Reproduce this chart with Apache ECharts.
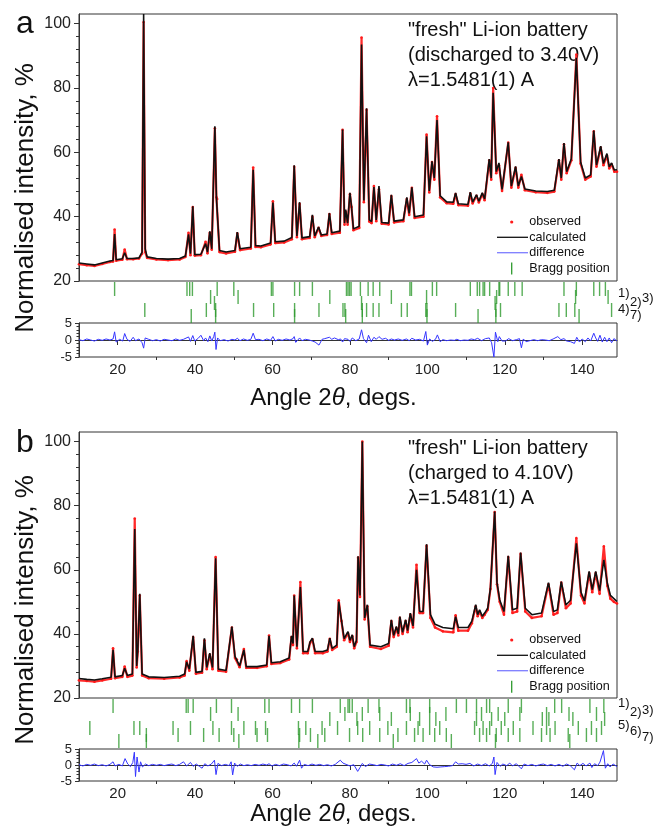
<!DOCTYPE html>
<html>
<head>
<meta charset="utf-8">
<title>Li-ion battery XRD refinement</title>
<script src="https://cdn.jsdelivr.net/npm/echarts@6/dist/echarts.min.js"></script>
<style>
html, body { margin: 0; padding: 0; background: #fff; }
#main { width: 656px; height: 828px; }
</style>
</head>
<body>
<div id="main"></div>
<script>
// ---- panel a : discharged to 3.40V ----
var angleA = [
	10.0, 12.0, 14.0, 16.0, 18.0, 18.8, 19.2, 19.6, 21.2, 21.8,
	22.4, 24.0, 25.5, 26.3, 26.7, 27.1, 27.6, 30.0, 33.0, 36.0,
	37.5, 38.3, 38.8, 39.4, 39.9, 41.5, 42.7, 43.2, 43.8, 44.3,
	45.1, 45.5, 45.7, 46.3, 48.0, 50.3, 50.9, 51.6, 54.4, 55.0,
	55.6, 57.0, 59.5, 60.1, 60.7, 63.0, 65.0, 65.6, 66.3, 67.0,
	67.6, 69.6, 70.3, 70.9, 71.9, 72.6, 74.1, 74.7, 75.3, 77.4,
	78.1, 78.6, 78.9, 79.4, 80.0, 80.4, 80.9, 82.4, 83.0, 83.6,
	84.3, 85.0, 85.6, 86.2, 86.8, 87.5, 88.2, 90.0, 90.7, 91.4,
	93.8, 94.7, 95.3, 96.0, 96.7, 99.0, 99.8, 100.5, 101.2, 101.8,
	102.5, 103.3, 105.0, 106.7, 107.3, 108.0, 110.5, 111.1, 111.7, 112.7,
	113.3, 114.2, 114.8, 116.0, 116.5, 117.0, 117.8, 118.5, 119.3, 120.9,
	121.7, 122.8, 123.5, 124.3, 125.2, 128.0, 131.0, 132.8, 134.0, 134.6,
	135.3, 136.0, 137.2, 138.5, 139.6, 140.8, 142.2, 143.0, 143.7, 144.8,
	145.5, 146.4, 147.0, 147.6, 148.3, 149.0
];
var calcA = [
	25.6, 25.3, 25.0, 25.6, 26.2, 26.4, 34.6, 26.6, 26.9, 28.8,
	27.0, 27.0, 27.2, 29.0, 103.0, 30.0, 27.5, 27.0, 26.8, 27.0,
	27.8, 34.5, 28.5, 43.2, 28.2, 28.3, 31.6, 29.0, 35.4, 30.0,
	68.1, 46.0, 46.3, 29.5, 29.0, 29.5, 35.2, 30.0, 30.5, 54.6,
	31.0, 30.9, 31.8, 44.4, 32.2, 32.4, 33.5, 56.0, 34.0, 44.5,
	33.4, 33.8, 40.6, 34.0, 36.8, 34.3, 34.6, 41.1, 35.0, 35.5,
	67.1, 38.0, 42.2, 38.0, 47.4, 43.2, 36.2, 37.0, 93.5, 45.0,
	73.7, 39.0, 38.5, 49.2, 39.0, 49.5, 38.2, 38.0, 46.8, 38.6,
	39.0, 46.0, 41.0, 49.1, 40.0, 40.5, 65.0, 48.0, 57.2, 52.0,
	70.0, 46.5, 44.6, 44.5, 47.4, 44.0, 43.8, 47.6, 44.5, 46.8,
	44.8, 47.4, 45.5, 57.9, 52.0, 78.5, 54.0, 56.7, 48.5, 63.1,
	49.5, 55.6, 49.5, 52.5, 48.6, 48.0, 47.8, 48.2, 57.9, 52.0,
	62.9, 54.0, 58.0, 89.4, 57.0, 52.0, 53.0, 66.8, 56.0, 61.9,
	56.5, 59.6, 55.5, 56.7, 54.5, 54.6
];
var obsA = [
	25.2, 24.9, 24.7, 25.3, 25.9, 26.1, 36.0, 26.3, 26.6, 29.8,
	26.8, 26.8, 27.0, 28.5, 100.5, 29.0, 27.2, 26.7, 26.5, 26.7,
	27.5, 35.0, 28.0, 43.0, 27.9, 28.0, 32.2, 28.6, 35.0, 29.7,
	67.5, 46.0, 45.5, 29.0, 28.6, 29.1, 34.8, 29.6, 30.1, 55.3,
	30.6, 30.5, 31.4, 44.8, 31.8, 32.0, 33.0, 55.5, 33.6, 44.0,
	33.0, 33.4, 40.0, 33.6, 36.5, 34.0, 34.3, 40.8, 34.6, 35.0,
	67.0, 37.5, 41.5, 37.5, 47.0, 43.0, 35.8, 36.5, 95.7, 44.5,
	73.2, 38.5, 38.0, 49.5, 38.6, 48.5, 37.8, 37.6, 46.4, 38.2,
	38.6, 45.5, 40.5, 49.0, 39.6, 40.0, 65.5, 47.5, 57.0, 51.5,
	71.2, 46.0, 44.2, 44.0, 47.0, 43.6, 43.4, 47.2, 44.1, 46.5,
	44.4, 47.0, 45.1, 57.5, 51.5, 80.0, 53.5, 56.0, 48.0, 63.0,
	49.0, 55.2, 49.0, 53.0, 48.2, 47.6, 47.4, 47.8, 57.5, 51.5,
	62.5, 53.5, 57.5, 90.4, 56.5, 51.5, 52.5, 66.5, 55.5, 61.5,
	56.0, 59.0, 55.0, 56.3, 54.0, 54.0
];
var diffAngleA = [
	10, 11, 12, 13, 14, 15, 16, 17, 18, 18.8,
	19.2, 19.6, 20.5, 21.3, 21.8, 22.4, 23.2, 24.0, 24.6, 25.5,
	26.3, 26.7, 27.1, 28, 29, 30, 31, 32, 33, 34,
	35, 36, 37, 38.3, 38.8, 39.4, 39.9, 40.8, 41.5, 42.2,
	42.7, 43.3, 43.8, 44.3, 44.8, 45.1, 45.4, 45.8, 46.5, 47.5,
	48.5, 49.5, 50.3, 50.9, 51.6, 52.5, 53.5, 54.4, 55.0, 55.6,
	56.5, 57.5, 58.5, 59.5, 60.1, 60.7, 61.5, 62.5, 63.5, 64.5,
	65.3, 65.6, 66.0, 67.0, 67.6, 68.5, 69.5, 70.3, 71.0, 72.0,
	72.8, 73.5, 74.7, 75.3, 76.0, 77.0, 77.6, 78.1, 78.6, 79.5,
	80.0, 80.6, 81.5, 82.4, 83.0, 83.5, 84.3, 84.8, 85.5, 86.2,
	86.8, 87.5, 88.3, 89.2, 90.0, 90.7, 91.5, 92.5, 93.5, 94.6,
	95.3, 96.0, 97.0, 98.0, 99.0, 99.6, 100.0, 100.6, 101.3, 102.1,
	102.6, 103.3, 104, 105, 106, 107, 107.6, 108.5, 109.5, 110.5,
	111.3, 112.2, 113.0, 114.0, 115.0, 116.0, 116.6, 117.2, 117.6, 118.2,
	118.6, 119.3, 120.2, 121.0, 122.0, 123.0, 123.8, 124.3, 124.8, 125.5,
	126.5, 127.5, 128.5, 129.5, 130.5, 131.5, 132.5, 133.7, 134.5, 135.3,
	136.0, 137.0, 138.0, 138.6, 139.3, 140.0, 140.8, 141.5, 142.2, 143.0,
	143.5, 144.0, 144.6, 145.2, 145.8, 146.4, 147.0, 147.6, 148.2, 149.0
];
var diffA = [
	0.1, -0.2, 0.3, 0, -0.3, 0.2, -0.1, 0.3, 0, 0.3,
	2.4, -0.6, 0.2, -0.3, 1.9, 0.2, -0.4, 0.8, -0.2, 0.3,
	-0.8, -2.4, 0.6, 0.2, -0.2, 0.1, -0.3, 0.2, 0, -0.2,
	0.3, -0.1, 0.2, 0.9, -0.4, 1.3, -0.3, 0.5, 1.4, -0.2,
	0.6, -0.5, 1.2, -0.3, 1.0, 2.3, -2.8, 0.6, -0.2, 0.1,
	-0.3, 0.2, 0, 0.5, -0.2, 0.3, -0.1, 0.2, 2.0, 0.1,
	0.2, -0.2, 0.3, -0.1, 1.0, -0.3, 0.2, -0.1, 0.3, 0,
	0.4, 1.0, -0.7, 0.6, -0.2, 0.2, 0, -0.3, -0.6, -1.5,
	0.2, 0.4, 0.8, 0.2, 0.6, 0.1, 0.3, -0.6, 0.4, 0.2,
	-0.4, 0.6, -0.2, 0.3, 3.0, 0.4, -0.8, 1.4, -0.5, 0.8,
	0.2, 1.0, 0.2, 0.5, -0.1, 0.3, 0, 0.3, -0.1, 0.3,
	-0.2, 0.5, 0, 0.2, -0.3, 2.5, -1.5, 0.3, -0.4, 0.2,
	1.5, -0.5, 0.1, -0.2, 0, -0.1, 0.2, -0.2, 0, -0.1,
	0.3, 0.1, 0.5, -0.2, 0.4, 0.6, -0.8, -5.0, 2.3, -0.5,
	1.0, -0.3, -0.3, 0.4, -0.2, 0.1, 0.4, -2.3, 0.3, -0.5,
	-0.2, 0.1, -0.2, 0.1, 0, -0.2, 0.3, 1.0, 0.1, 0.4,
	-0.3, -0.5, -1.0, 0.8, -0.6, 0.3, -0.5, 0.6, -0.3, 2.0,
	0.6, -0.4, 1.4, -0.6, 0.8, -0.5, 0.6, -0.8, 0.4, -0.3
];
// Bragg positions (2theta) per phase
var braggA1 = [19.2, 37.9, 38.6, 39.3, 45.7, 50.0, 59.7, 60.1, 65.7, 67.0, 70.3, 79.1, 79.5, 79.9, 80.3,
	82.7, 84.7, 86.0, 87.7, 95.5, 95.9, 101.3, 102.4, 111.1, 112.9, 113.5, 114.4, 114.8, 116.1,
	118.5, 118.7, 120.9, 122.6, 124.5, 135.3, 138.5, 143.0, 144.5, 146.0];
var braggA2 = [44.0, 51.1, 74.8, 90.7, 99.8, 117.9, 138.3, 146.7];
var braggA3 = [45.0, 83.0, 117.5];
var braggA4 = [27.0, 42.9, 45.3, 55.1, 60.3, 65.7, 72.0, 78.2, 78.7, 83.2, 84.3, 86.0, 87.5, 93.3, 94.8,
	99.6, 99.9, 107.3, 117.7, 118.9, 134.0, 135.9, 138.1, 147.6];
var braggA7 = [39.0, 45.3, 65.7, 78.9, 83.2, 99.9, 113.1, 117.7, 139.2];

// ---- panel b : charged to 4.10V ----
var angleB = [
	10.0, 12.0, 14.0, 16.0, 18.3, 18.8, 19.3, 21.2, 21.8, 22.5,
	23.8, 24.4, 24.9, 25.2, 25.7, 26.3, 28.0, 32.0, 36.0, 37.3,
	37.8, 38.5, 39.5, 40.2, 41.8, 42.4, 43.0, 43.8, 44.5, 45.3,
	46.0, 48.0, 49.5, 50.3, 50.8, 51.5, 52.6, 53.2, 56.0, 58.5,
	59.1, 59.7, 62.0, 64.3, 64.9, 65.3, 65.6, 66.3, 67.2, 67.9,
	69.1, 69.7, 70.3, 71.0, 73.0, 74.2, 74.8, 75.4, 76.6, 77.1,
	77.8, 78.5, 79.5, 80.0, 80.6, 81.1, 81.7, 82.1, 82.6, 83.2,
	83.8, 84.5, 85.2, 88.0, 90.0, 90.7, 91.3, 92.0, 92.5, 92.9,
	93.6, 94.4, 94.9, 95.6, 96.3, 97.2, 98.0, 98.9, 99.8, 100.8,
	102.0, 104.0, 106.7, 107.3, 108.0, 110.5, 111.5, 112.5, 113.0, 113.5,
	114.2, 114.8, 115.6, 116.3, 117.4, 118.0, 118.7, 119.8, 120.9, 122.0,
	123.2, 124.1, 125.3, 127.0, 129.5, 131.3, 132.6, 133.6, 134.6, 135.8,
	137.0, 138.5, 139.7, 140.6, 141.8, 142.6, 143.5, 144.5, 145.6, 146.5,
	147.3, 148.2, 149.0
];
var calcB = [
	26.1, 25.8, 25.6, 26.0, 26.5, 35.0, 26.6, 27.0, 29.3, 27.0,
	27.5, 72.7, 30.0, 35.0, 52.5, 27.5, 26.6, 26.4, 26.8, 27.5,
	31.3, 29.0, 39.4, 28.0, 28.3, 38.6, 29.5, 34.0, 29.5, 63.6,
	29.0, 28.6, 42.3, 33.0, 32.4, 30.0, 35.0, 29.8, 29.8, 30.3,
	39.4, 31.0, 31.3, 32.5, 39.4, 37.0, 52.0, 36.0, 54.6, 34.5,
	34.5, 37.5, 38.7, 34.5, 34.5, 35.0, 38.7, 35.5, 36.5, 50.1,
	44.4, 38.5, 40.7, 38.0, 39.7, 36.0, 38.0, 64.2, 52.0, 100.0,
	45.0, 49.1, 36.5, 36.0, 37.0, 44.4, 39.5, 42.3, 40.0, 45.4,
	40.5, 44.4, 41.0, 46.5, 42.5, 60.0, 47.0, 47.0, 68.0, 46.0,
	43.0, 42.0, 41.6, 45.4, 42.0, 42.0, 44.0, 49.1, 46.0, 47.5,
	45.5, 46.5, 48.0, 54.3, 78.2, 56.0, 50.6, 47.0, 64.4, 47.5,
	48.0, 65.4, 48.0, 46.0, 46.5, 56.0, 47.0, 47.5, 56.3, 49.0,
	50.5, 68.3, 53.0, 50.3, 59.5, 53.8, 59.5, 53.5, 63.1, 55.8,
	52.0, 51.0, 50.1
];
var obsB = [
	25.5, 25.3, 25.1, 25.5, 26.0, 35.5, 26.2, 26.6, 29.8, 26.6,
	27.0, 76.0, 29.5, 34.5, 52.0, 27.0, 26.2, 26.0, 26.4, 27.0,
	31.5, 28.5, 39.0, 27.6, 27.9, 38.0, 29.0, 33.5, 29.0, 64.0,
	28.5, 28.2, 42.0, 32.5, 32.0, 29.6, 35.3, 29.4, 29.4, 29.9,
	39.5, 30.6, 30.9, 32.0, 39.0, 36.5, 52.0, 35.5, 56.2, 34.0,
	34.0, 37.2, 38.3, 34.0, 34.0, 34.5, 38.5, 35.0, 36.0, 50.5,
	44.0, 38.0, 40.3, 37.5, 39.3, 35.5, 37.5, 63.8, 51.5, 100.0,
	44.5, 48.6, 36.0, 35.3, 36.3, 44.0, 39.0, 41.8, 39.5, 45.0,
	40.0, 44.0, 40.5, 46.0, 42.0, 61.6, 46.5, 46.5, 67.5, 45.0,
	42.0, 40.8, 40.5, 45.8, 41.0, 41.0, 43.3, 48.6, 45.5, 47.0,
	45.0, 46.0, 47.5, 54.0, 78.0, 55.5, 50.0, 46.0, 64.0, 46.5,
	47.0, 65.0, 47.0, 45.0, 45.5, 55.5, 46.0, 46.5, 56.0, 48.0,
	49.5, 69.9, 52.0, 49.5, 59.0, 53.0, 59.0, 52.5, 67.3, 55.0,
	51.0, 50.0, 49.5
];
var diffAngleB = [
	10, 11, 12, 13, 14, 15, 16, 17, 18, 18.8,
	19.3, 20.3, 21.2, 21.9, 22.6, 23.3, 23.9, 24.3, 24.6, 25.0,
	25.5, 25.9, 26.4, 27.2, 28, 29, 30, 31, 32, 33,
	34, 35, 36, 37.0, 37.8, 38.8, 39.5, 40.3, 41.2, 41.8,
	42.5, 43.3, 44.2, 45.0, 45.4, 45.9, 46.8, 47.8, 48.8, 49.3,
	49.7, 50.2, 50.9, 51.7, 52.6, 53.5, 54.5, 55.5, 56.5, 57.5,
	58.5, 59.1, 59.8, 60.8, 61.8, 62.8, 63.8, 64.8, 65.6, 66.2,
	67.0, 67.5, 68.2, 69.2, 70.2, 71.2, 72.2, 73.2, 74.2, 75.2,
	76.2, 77.5, 78.2, 79, 80, 81, 82.0, 82.6, 83.2, 84,
	85, 86, 87, 88, 89, 90, 91, 92, 93, 94,
	95, 96, 97.2, 97.8, 98.5, 99.3, 99.8, 100.5, 101.5, 102.5,
	103.5, 104.5, 105.5, 106.5, 107.3, 108, 109, 110, 111, 112,
	113, 114, 115, 116, 116.8, 117.2, 117.5, 118, 118.8, 119.5,
	120.5, 121.3, 122, 123, 124.3, 125, 126, 127, 128, 129,
	130, 131, 132, 133, 134, 135, 136, 137, 138, 138.7,
	139.4, 140.2, 141, 142, 142.5, 143.2, 144, 144.6, 145.5, 146,
	146.6, 147.2, 148, 149
];
var diffB = [
	0.1, -0.3, 0.2, -0.1, 0.3, -0.2, 0.1, -0.3, 0.2, 1.0,
	-0.3, 0.2, -0.3, 2.0, 0.3, -0.5, 0.8, 4.0, -3.6, 2.5,
	-2.2, 1.0, -0.6, 0.3, -0.2, 0.2, -0.1, 0.2, -0.2, 0.1,
	0.3, -0.2, 0.2, 1.0, -0.3, 0.8, -0.4, 0.3, -0.5, -1.0,
	0.4, -0.3, 0.3, 1.5, -3.0, 0.5, -0.2, 0.2, -0.2, 1.0,
	-3.1, 0.6, -0.4, 0.3, -0.2, 0.1, -0.2, 0.2, -0.1, 0.3,
	0, 0.4, -0.3, 0.2, -0.2, 0.3, 0.1, -0.3, 0.6, -0.4,
	1.5, -1.0, 0.2, -0.2, 0.3, -0.1, 0.2, -0.2, 0.1, -0.3,
	0.2, 1.5, 0.6, 0.2, -0.3, 0.1, -2.0, -0.8, 0.5, -0.5,
	0.3, 0.1, -0.2, 0.2, 0, -0.3, 0.3, -0.1, 0.4, -0.2,
	0.5, 0.8, 2.0, 0.6, 1.2, 0.3, 1.5, 0.2, -0.6, -0.7,
	-0.6, -0.5, -0.4, -0.2, 1.0, 0.3, 0.4, 0.2, 0.5, -0.3,
	0.3, -0.2, 0.4, -0.3, 0.5, 2.5, -3.0, 0.8, -0.4, 0.3,
	-0.2, 0.6, -0.3, 0.4, -1.2, 0.3, -0.2, 0.2, -0.3, 0.1,
	0.3, -0.2, 0.2, -0.3, 0.2, -0.4, 0.3, -0.3, -1.5, 0.6,
	-0.2, 0.5, -0.3, 0.6, -0.8, 0.4, -0.2, 0.9, 4.5, -1.0,
	0.4, -0.6, 0.3, -0.5
];
var braggB1 = [18.8, 37.7, 38.2, 39.5, 45.5, 49.4, 58.0, 59.1, 64.9, 67.0, 70.3, 77.5, 79.5, 79.9, 80.6,
	84.7, 87.5, 94.6, 95.5, 100.6, 107.5, 110.1, 112.7, 115.3, 116.1, 120.9, 124.3, 132.9, 134.7,
	142.0, 145.6];
var braggB2 = [44.0, 51.1, 78.7, 83.2, 87.7, 95.6, 100.6, 104.8, 114.0, 118.3, 123.9, 130.8, 136.6, 143.7];
var braggB3 = [74.8, 81.8, 90.7, 98.0, 102.2, 112.7, 116.6, 120.0, 129.7, 131.4, 137.6, 145.8];
var braggB5 = [12.8, 24.2, 25.7, 34.3, 38.8, 44.6, 49.4, 52.6, 55.6, 58.2, 66.7, 68.6, 72.8, 76.8, 82.0,
	85.1, 89.8, 94.6, 97.6, 100.6, 103.2, 112.2, 114.4, 116.1, 119.1, 122.2, 127.3, 130.8, 133.0,
	139.0, 142.4, 145.0];
var braggB6 = [27.4, 35.6, 42.2, 46.2, 50.0, 56.0, 58.7, 67.0, 69.8, 73.5, 79.9, 83.3, 87.7, 92.4, 96.7,
	98.9, 101.9, 104.9, 113.5, 115.3, 117.8, 120.9, 123.9, 129.5, 131.7, 136.4, 141.1, 143.7];
var braggB7 = [20.3, 27.4, 51.3, 66.8, 71.7, 91.2, 106.2, 117.6, 136.8];

// axis ticks
var xMajor = [20, 40, 60, 80, 100, 120, 140];
var xMinor = [30, 50, 70, 90, 110, 130];
var yMajor = [20, 40, 60, 80, 100];
var yMinor = [24, 28, 32, 36, 44, 48, 52, 56, 64, 68, 72, 76, 84, 88, 92, 96];

var legendNames = ['observed', 'calculated', 'difference', 'Bragg position'];
var notesA = ['"fresh" Li-ion battery', '(discharged to 3.40V)', '\u03bb=1.5481(1) A'];
var notesB = ['"fresh" Li-ion battery', '(charged to 4.10V)', '\u03bb=1.5481(1) A'];

var font = '"Liberation Sans", Arial, Helvetica, sans-serif';
var axisColor = '#333';
var chart = echarts.init(document.getElementById('main'));

var grid = [], xAxis = [], yAxis = [], series = [], graphic = [];

function pairs(xs, ys) {
	return xs.map(function(x, i) {
		return [x, ys[i]];
	});
}

function text(x, y, str, size, extra) {
	var el = {
		type: 'text',
		x: x,
		y: y,
		silent: true,
		style: {
			text: str,
			fill: '#111',
			fontSize: size,
			fontFamily: font,
			align: 'left',
			verticalAlign: 'middle'
		}
	};
	if (extra) {
		for (var k in extra) el.style[k] = extra[k];
	}
	graphic.push(el);
}

function addPanel(p) {
	var g0 = grid.length;
	var braggTop = p.top + p.mainH;
	var diffTop = braggTop + p.braggH;

	grid.push({ left: 79, top: p.top, width: 538, height: p.mainH, show: true, borderColor: axisColor, borderWidth: 1 });
	grid.push({ left: 79, top: braggTop, width: 538, height: p.braggH });
	grid.push({ left: 79, top: diffTop, width: 538, height: p.diffH, show: true, borderColor: axisColor, borderWidth: 1 });

	var x0 = xAxis.length;
	xAxis.push({ gridIndex: g0, type: 'value', min: 10, max: 149, show: false });
	xAxis.push({ gridIndex: g0 + 1, type: 'value', min: 10, max: 149, show: false });
	xAxis.push({
		gridIndex: g0 + 2, type: 'value', min: 10, max: 149, position: 'bottom',
		splitLine: { show: false },
		axisLine: { lineStyle: { color: axisColor } },
		axisTick: { customValues: xMajor, length: 5, lineStyle: { color: axisColor } },
		axisLabel: { customValues: xMajor, fontSize: 15, margin: 5.5, color: '#222', fontFamily: font }
	});
	xAxis.push({
		gridIndex: g0 + 2, type: 'value', min: 10, max: 149, position: 'bottom',
		splitLine: { show: false },
		axisLine: { show: false },
		axisLabel: { show: false },
		axisTick: { customValues: xMinor, length: 3, lineStyle: { color: axisColor } }
	});

	var y0 = yAxis.length;
	yAxis.push({
		gridIndex: g0, type: 'value', min: 20, max: 103, position: 'left',
		splitLine: { show: false },
		axisLine: { show: true, lineStyle: { color: axisColor } },
		axisTick: { show: true, customValues: yMajor, length: 5, lineStyle: { color: axisColor } },
		axisLabel: { customValues: yMajor, fontSize: 16, margin: 8, color: '#222', fontFamily: font }
	});
	yAxis.push({
		gridIndex: g0, type: 'value', min: 20, max: 103, position: 'left',
		splitLine: { show: false },
		axisLine: { show: false },
		axisLabel: { show: false },
		axisTick: { show: true, customValues: yMinor, length: 3, lineStyle: { color: axisColor } }
	});
	yAxis.push({ gridIndex: g0 + 1, type: 'value', min: 0, max: p.braggH, inverse: true, show: false });
	yAxis.push({
		gridIndex: g0 + 2, type: 'value', min: -5, max: 5, interval: 5, position: 'left',
		splitLine: { show: false },
		axisLine: { show: true, lineStyle: { color: axisColor } },
		axisTick: { show: true, length: 4, lineStyle: { color: axisColor } },
		minorTick: { show: true, splitNumber: 5, length: 2.5, lineStyle: { color: axisColor } },
		axisLabel: { fontSize: 13, margin: 7, color: '#222', fontFamily: font }
	});

	series.push({
		name: 'observed', type: 'line', xAxisIndex: x0, yAxisIndex: y0,
		data: pairs(p.angle, p.obs),
		symbol: 'circle', symbolSize: 2.6, showSymbol: true, showAllSymbol: true,
		itemStyle: { color: '#ff1a1a' },
		lineStyle: { color: '#ff2a2a', width: 2.2 },
		z: 2
	});
	series.push({
		name: 'calculated', type: 'line', xAxisIndex: x0, yAxisIndex: y0,
		data: pairs(p.angle, p.calc),
		showSymbol: false,
		lineStyle: { color: '#111', width: 1.6 },
		z: 3
	});
	series.push({
		name: 'difference', type: 'line', xAxisIndex: x0 + 2, yAxisIndex: y0 + 3,
		data: pairs(p.diffAngle, p.diff),
		showSymbol: false,
		lineStyle: { color: '#3535ff', width: 1 }
	});
	p.phases.forEach(function(ph) {
		series.push({
			name: 'Bragg position', type: 'scatter', xAxisIndex: x0 + 1, yAxisIndex: y0 + 2,
			data: ph.ticks.map(function(a) { return [a, ph.level]; }),
			symbol: 'rect', symbolSize: [1.4, 14],
			itemStyle: { color: '#2e9a2e' }
		});
		text(ph.lx, ph.ly, ph.name, 13);
	});

	// panel letter, notes, legend, axis titles
	text(25, p.tagY, p.tag, 32, { align: 'center' });
	p.notes.forEach(function(s, i) {
		text(408, p.noteY + i * 25, s, 20);
	});
	var ly = p.legendY;
	graphic.push({ type: 'circle', silent: true, shape: { cx: 511.7, cy: ly[0], r: 1.6 }, style: { fill: '#ff1a1a' } });
	graphic.push({ type: 'line', silent: true, shape: { x1: 497, y1: ly[1], x2: 528, y2: ly[1] }, style: { stroke: '#111', lineWidth: 1.3 } });
	graphic.push({ type: 'line', silent: true, shape: { x1: 497, y1: ly[2], x2: 528, y2: ly[2] }, style: { stroke: '#7d7dff', lineWidth: 1.3 } });
	graphic.push({ type: 'line', silent: true, shape: { x1: 511.7, y1: ly[3] - 6, x2: 511.7, y2: ly[3] + 6 }, style: { stroke: '#2e9a2e', lineWidth: 1.3 } });
	legendNames.forEach(function(s, i) {
		text(529.3, ly[i], s, 12.6);
	});
	graphic.push({
		type: 'text', x: 26, y: p.yTitleY, rotation: Math.PI / 2, silent: true,
		style: { text: 'Normalised intensity, %', fill: '#111', fontSize: 26, fontFamily: font, align: 'center', verticalAlign: 'middle' }
	});
	graphic.push({
		type: 'text', x: 333.5, y: p.xTitleY, silent: true,
		style: {
			text: '{n|Angle 2}{i|\u03b8}{n|, degs.}',
			fill: '#111', fontSize: 24, fontFamily: font, align: 'center', verticalAlign: 'middle',
			rich: {
				n: { fontSize: 24, fontFamily: font, fill: '#111' },
				i: { fontSize: 24, fontFamily: font, fontStyle: 'italic', fill: '#111' }
			}
		}
	});
}

addPanel({
	top: 14, mainH: 267, braggH: 42, diffH: 34,
	angle: angleA, calc: calcA, obs: obsA, diffAngle: diffAngleA, diff: diffA,
	phases: [
		{ ticks: braggA1, level: 8, name: '1)', lx: 618, ly: 293 },
		{ ticks: braggA2, level: 16, name: '2)', lx: 630, ly: 302 },
		{ ticks: braggA3, level: 22, name: '3)', lx: 642, ly: 298 },
		{ ticks: braggA4, level: 29, name: '4)', lx: 618, ly: 309 },
		{ ticks: braggA7, level: 35, name: '7)', lx: 630, ly: 315 }
	],
	tag: 'a', tagY: 24, notes: notesA, noteY: 30,
	legendY: [222, 237.3, 252.7, 268.5], yTitleY: 198, xTitleY: 398
});
addPanel({
	top: 432, mainH: 266, braggH: 51, diffH: 32,
	angle: angleB, calc: calcB, obs: obsB, diffAngle: diffAngleB, diff: diffB,
	phases: [
		{ ticks: braggB1, level: 8, name: '1)', lx: 618, ly: 703 },
		{ ticks: braggB2, level: 16, name: '2)', lx: 630, ly: 712 },
		{ ticks: braggB3, level: 21, name: '3)', lx: 642, ly: 710 },
		{ ticks: braggB5, level: 30, name: '5)', lx: 618, ly: 725 },
		{ ticks: braggB6, level: 37, name: '6)', lx: 630, ly: 731 },
		{ ticks: braggB7, level: 43, name: '7)', lx: 642, ly: 737 }
	],
	tag: 'b', tagY: 443, notes: notesB, noteY: 448,
	legendY: [640, 655.3, 670.7, 686.7], yTitleY: 610, xTitleY: 814
});

var option = {
	animation: false,
	backgroundColor: '#fff',
	grid: grid,
	xAxis: xAxis,
	yAxis: yAxis,
	series: series,
	graphic: graphic
};
chart.setOption(option);
</script>
</body>
</html>
